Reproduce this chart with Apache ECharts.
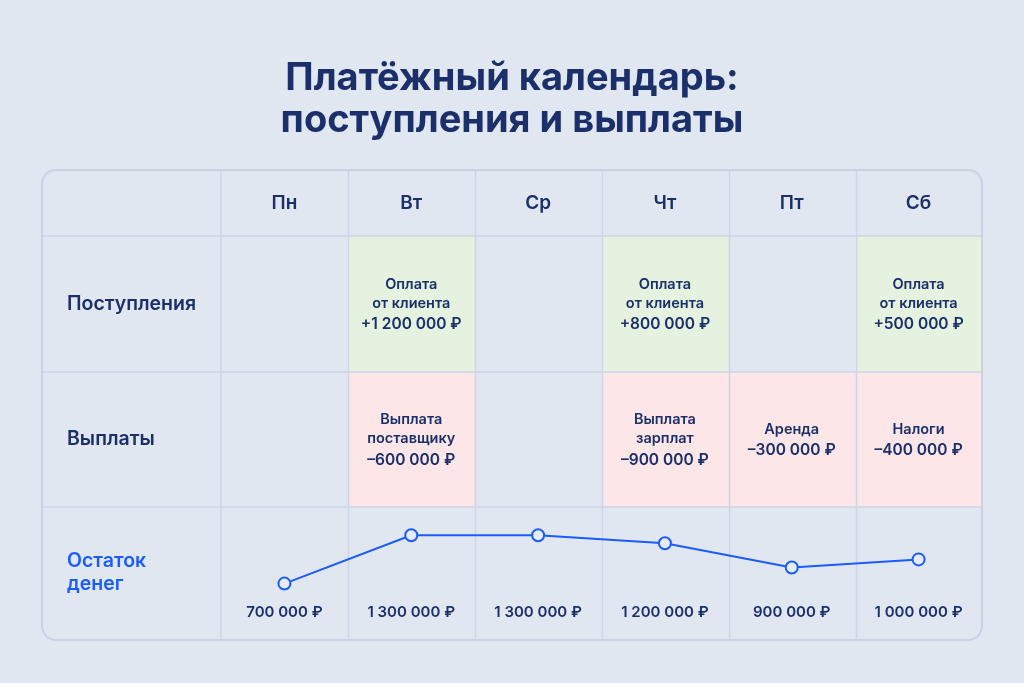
<!DOCTYPE html>
<html>
<head>
<meta charset="utf-8">
<script src="https://cdn.jsdelivr.net/npm/echarts@6/dist/echarts.min.js"></script>
<style>
  html, body { margin: 0; padding: 0; background: #e1e7f1; }
  #main { width: 1024px; height: 683px; }
</style>
</head>
<body>
<div id="main"></div>
<script>
// дни недели
var days = ['Пн', 'Вт', 'Ср', 'Чт', 'Пт', 'Сб'];
var rows = ['Поступления', 'Выплаты'];
// поступления
var incomeNames = ['', 'Оплата\nот клиента', '', 'Оплата\nот клиента', '', 'Оплата\nот клиента'];
var incomeValues = [null, 1200000, null, 800000, null, 500000];
// выплаты
var expenseNames = ['', 'Выплата\nпоставщику', '', 'Выплата\nзарплат', 'Аренда', 'Налоги'];
var expenseValues = [null, 600000, null, 900000, 300000, 400000];
// остаток денег
var balance = [700000, 1300000, 1300000, 1200000, 900000, 1000000];

var NAVY = '#1b2f6b';
var BLUE = '#1a5cff';
var LINE = '#cdd6e6';
var FONT = 'Inter, "Noto Sans", sans-serif';

function money(v) {
	return String(v).replace(/\B(?=(\d{3})+(?!\d))/g, ' ') + ' ₽';
}

// ячейки таблицы: [день, строка, подпись, сумма, знак]
var cells = [];
for (var i = 0; i < days.length; i++) {
	if (incomeValues[i] != null) cells.push([i, 0, incomeNames[i], incomeValues[i], '+']);
	if (expenseValues[i] != null) cells.push([i, 1, expenseNames[i], expenseValues[i], '–']);
}

var chart = echarts.init(document.getElementById('main'));

var left = 221, right = 982, top0 = 236, mid = 507, bottom = 640;

var option = {
	backgroundColor: '#e1e7f1',
	textStyle: { fontFamily: FONT },
	title: {
		text: 'Платёжный календарь:\nпоступления и выплаты',
		left: 'center',
		top: 53,
		textStyle: {
			fontFamily: FONT,
			fontSize: 38,
			fontWeight: 'bold',
			color: NAVY,
			lineHeight: 42
		}
	},
	grid: [
		{ left: left, width: right - left, top: top0, height: mid - top0 },
		{ left: left, width: right - left, top: mid, height: bottom - mid }
	],
	xAxis: [
		{
			type: 'category', gridIndex: 0, data: days, position: 'top',
			axisLine: { show: false }, axisTick: { show: false },
			axisLabel: { margin: 23, fontSize: 19, fontWeight: 600, color: NAVY, fontFamily: FONT },
			splitLine: { show: false }
		},
		{
			type: 'category', gridIndex: 1, data: days, position: 'bottom',
			axisLine: { show: false }, axisTick: { show: false },
			axisLabel: {
				inside: true, margin: 20, fontSize: 15, fontWeight: 600, color: NAVY, fontFamily: FONT,
				formatter: function(v, idx) { return money(balance[idx]); }
			},
			splitLine: { show: false }
		}
	],
	yAxis: [
		{
			type: 'category', gridIndex: 0, data: rows, inverse: true,
			axisLine: { show: false }, axisTick: { show: false },
			axisLabel: { margin: 154, align: 'left', fontSize: 19.5, fontWeight: 600, color: NAVY, fontFamily: FONT },
			splitLine: { show: false }
		},
		{
			type: 'value', gridIndex: 1, min: 0, max: 1650000,
			show: false
		}
	],
	graphic: [
		// линии таблицы
		{ type: 'line', shape: { x1: 42, y1: 236, x2: 982, y2: 236 }, style: { stroke: LINE, lineWidth: 1.5 }, z: 5 },
		{ type: 'line', shape: { x1: 42, y1: 372, x2: 982, y2: 372 }, style: { stroke: LINE, lineWidth: 1.5 }, z: 5 },
		{ type: 'line', shape: { x1: 42, y1: 507, x2: 982, y2: 507 }, style: { stroke: LINE, lineWidth: 1.5 }, z: 5 }
	].concat([221, 348.5, 475.5, 602.5, 729.5, 856.5].map(function(x) {
		return { type: 'line', shape: { x1: x, y1: 170, x2: x, y2: 640 }, style: { stroke: LINE, lineWidth: 1.5 }, z: 5 };
	})).concat([
		{ type: 'rect', shape: { x: 42, y: 170, width: 940, height: 470, r: 14 }, style: { fill: 'transparent', stroke: '#c9d3e5', lineWidth: 2 }, z: 6 },
		{
			type: 'text', left: 67, top: 550, z: 10,
			style: { text: 'Остаток\nденег', fill: BLUE, fontSize: 19.5, fontWeight: 600, lineHeight: 23, fontFamily: FONT }
		}
	]),
	series: [
		{
			type: 'custom',
			xAxisIndex: 0, yAxisIndex: 0,
			data: cells,
			z: 1,
			renderItem: function(params, api) {
				var c = api.coord([api.value(0), api.value(1)]);
				var s = api.size([1, 1]);
				var d = cells[params.dataIndex];
				var plus = d[4] === '+';
				var names = d[2].split('\n').map(function(t) { return '{a|' + t + '}'; }).join('\n');
				return {
					type: 'group',
					children: [
						{
							type: 'rect',
							shape: { x: c[0] - s[0] / 2, y: c[1] - s[1] / 2, width: s[0], height: s[1] },
							style: { fill: plus ? '#e4f2df' : '#fce6e7' }
						},
						{
							type: 'text',
							x: c[0], y: c[1] + 2,
							style: {
								text: names + '\n{b|' + d[4] + money(d[3]) + '}',
								align: 'center', verticalAlign: 'middle',
								fill: NAVY,
								rich: {
									a: { fontSize: 14.5, lineHeight: 19, fontWeight: 600, fill: NAVY, fontFamily: FONT },
									b: { fontSize: 15.5, lineHeight: 24, fontWeight: 600, fill: NAVY, fontFamily: FONT }
								}
							}
						}
					]
				};
			}
		},
		{
			type: 'line',
			xAxisIndex: 1, yAxisIndex: 1,
			data: balance,
			symbol: 'circle',
			symbolSize: 12,
			z: 8,
			lineStyle: { color: BLUE, width: 2 },
			itemStyle: { color: '#e6ebf4', borderColor: BLUE, borderWidth: 2 }
		}
	]
};

chart.setOption(option);
</script>
</body>
</html>
